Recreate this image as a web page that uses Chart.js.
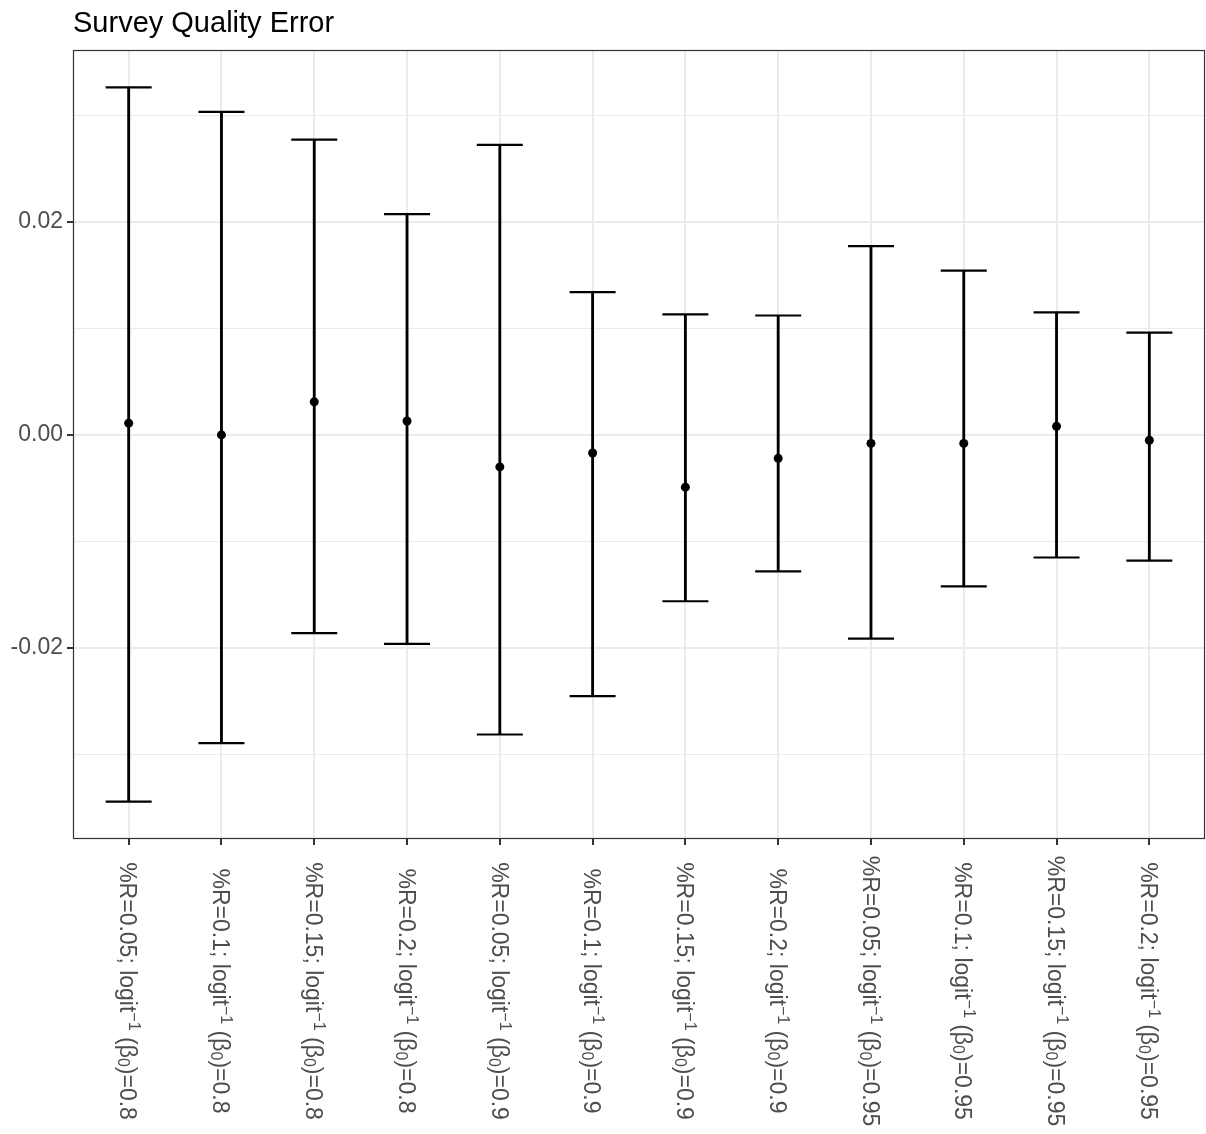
<!DOCTYPE html>
<html lang="en">
<head>
  <meta charset="UTF-8">
  <title>Survey Quality Error</title>
  <script src="https://cdn.jsdelivr.net/npm/chart.js"></script>
  <style>
    body { margin: 0; background: #fff; }
    canvas { display: block; }
  </style>
</head>
<body>
  <canvas id="chart" width="1206" height="1134"></canvas>
  <script>
    // Data
    const categories = [
      '%R=0.05; logit⁻¹ (β₀)=0.8', '%R=0.1; logit⁻¹ (β₀)=0.8', '%R=0.15; logit⁻¹ (β₀)=0.8', '%R=0.2; logit⁻¹ (β₀)=0.8',
      '%R=0.05; logit⁻¹ (β₀)=0.9', '%R=0.1; logit⁻¹ (β₀)=0.9', '%R=0.15; logit⁻¹ (β₀)=0.9', '%R=0.2; logit⁻¹ (β₀)=0.9',
      '%R=0.05; logit⁻¹ (β₀)=0.95', '%R=0.1; logit⁻¹ (β₀)=0.95', '%R=0.15; logit⁻¹ (β₀)=0.95', '%R=0.2; logit⁻¹ (β₀)=0.95'
    ];
    const means = [0.0011, 0.0000, 0.0031, 0.0013, -0.0030, -0.0017, -0.0049, -0.0022, -0.0008, -0.0008, 0.0008, -0.0005];
    const lower = [-0.0344, -0.0289, -0.0186, -0.0196, -0.0281, -0.0245, -0.0156, -0.0128, -0.0191, -0.0142, -0.0115, -0.0118];
    const upper = [0.0326, 0.0303, 0.0277, 0.0207, 0.0272, 0.0134, 0.0113, 0.0112, 0.0177, 0.0154, 0.0115, 0.0096];
    const yTicks = [-0.03, -0.02, -0.01, 0, 0.01, 0.02, 0.03];
    const yTickLabels = ['', '-0.02', '', '0.00', '', '0.02', ''];

    const FONT = "'Liberation Sans', Arial, sans-serif";
    const LABEL_SIZE = 23;
    const idx = categories.map((_, i) => i + 1);

    // split a label into plain / superscript / subscript pieces
    function pieces(label) {
      const out = [];
      let buf = '';
      for (const ch of label) {
        if (ch === '⁻' || ch === '¹' || ch === '₀') {
          if (buf) out.push({ t: buf, k: 0 });
          buf = '';
          const t = ch === '⁻' ? '\u2212' : ch === '¹' ? '1' : '0';
          const k = ch === '₀' ? -1 : 1;
          if (out.length && out[out.length - 1].k === k) out[out.length - 1].t += t;
          else out.push({ t: t, k: k });
        } else {
          buf += ch;
        }
      }
      if (buf) out.push({ t: buf, k: 0 });
      return out;
    }

    function drawRich(ctx, label, size) {
      const parts = pieces(label);
      const small = Math.round(size * 0.7);
      const widths = parts.map(p => {
        ctx.font = (p.k ? small : size) + 'px ' + FONT;
        return ctx.measureText(p.t).width;
      });
      const total = widths.reduce((a, b) => a + b, 0);
      let x = -total / 2;
      parts.forEach((p, i) => {
        ctx.font = (p.k ? small : size) + 'px ' + FONT;
        const dy = p.k === 1 ? -size * 0.36 : p.k === -1 ? size * 0.1 : 0;
        ctx.fillText(p.t, x, size * 0.36 + dy);
        x += widths[i];
      });
    }

    // Title, panel border and rotated category labels
    const decorations = {
      id: 'decorations',
      afterDraw(chart) {
        const ctx = chart.ctx;
        const area = chart.chartArea;
        const xScale = chart.scales.x;
        ctx.save();
        ctx.strokeStyle = '#333333';
        ctx.lineWidth = 1.2;
        ctx.strokeRect(area.left + 0.5, area.top + 0.5, area.right - area.left - 1, area.bottom - area.top - 1);

        ctx.fillStyle = '#000';
        ctx.font = '29px ' + FONT;
        ctx.textAlign = 'left';
        ctx.textBaseline = 'alphabetic';
        ctx.fillText('Survey Quality Error', area.left, 32);

        ctx.fillStyle = '#4D4D4D';
        ctx.textAlign = 'left';
        ctx.textBaseline = 'alphabetic';
        categories.forEach((label, i) => {
          const x = xScale.getPixelForValue(idx[i]);
          ctx.save();
          ctx.translate(x, 991);
          ctx.rotate(Math.PI / 2);
          drawRich(ctx, label, LABEL_SIZE);
          ctx.restore();
        });
        ctx.restore();
      }
    };

    new Chart(document.getElementById('chart'), {
      type: 'bar',
      data: {
        datasets: [
          {
            type: 'scatter',
            data: idx.map((x, i) => ({ x: x, y: means[i] })),
            pointStyle: 'circle',
            pointRadius: 4.5,
            backgroundColor: '#000',
            borderColor: '#000',
            borderWidth: 0
          },
          {
            type: 'scatter',
            data: idx.map((x, i) => ({ x: x, y: upper[i] })),
            pointStyle: 'line',
            pointRadius: 23,
            borderColor: '#000',
            borderWidth: 2.2
          },
          {
            type: 'scatter',
            data: idx.map((x, i) => ({ x: x, y: lower[i] })),
            pointStyle: 'line',
            pointRadius: 23,
            borderColor: '#000',
            borderWidth: 2.2
          },
          {
            type: 'bar',
            data: idx.map((x, i) => ({ x: x, y: [lower[i], upper[i]] })),
            backgroundColor: '#000',
            borderWidth: 0,
            barThickness: 2.2
          }
        ]
      },
      options: {
        responsive: false,
        animation: false,
        devicePixelRatio: 1,
        layout: { autoPadding: false, padding: { top: 50, right: 1, left: 0, bottom: 0 } },
        plugins: {
          legend: { display: false },
          tooltip: { enabled: false },
          title: { display: false }
        },
        scales: {
          x: {
            type: 'linear',
            min: 0.4,
            max: 12.6,
            offset: false,
            afterBuildTicks: s => { s.ticks = idx.map(v => ({ value: v })); },
            afterFit: s => { s.height = 295; },
            ticks: { display: false },
            border: { display: false },
            grid: {
              offset: false,
              color: '#EBEBEB',
              lineWidth: 2,
              drawTicks: true,
              tickLength: 6,
              tickColor: '#333333',
              tickWidth: 2
            }
          },
          y: {
            type: 'linear',
            min: -0.0379,
            max: 0.0361,
            afterBuildTicks: s => { s.ticks = yTicks.map(v => ({ value: v })); },
            afterFit: s => { s.width = 73; },
            border: { display: false },
            ticks: {
              color: '#4D4D4D',
              font: { family: FONT, size: LABEL_SIZE },
              padding: 4,
              callback: (v, i) => yTickLabels[i]
            },
            grid: {
              color: '#EBEBEB',
              lineWidth: c => (yTickLabels[c.index] ? 2 : 1),
              drawTicks: true,
              tickLength: 6,
              tickColor: c => (yTickLabels[c.index] ? '#333333' : 'rgba(0,0,0,0)'),
              tickWidth: 2
            }
          }
        }
      },
      plugins: [decorations]
    });
  </script>
</body>
</html>
